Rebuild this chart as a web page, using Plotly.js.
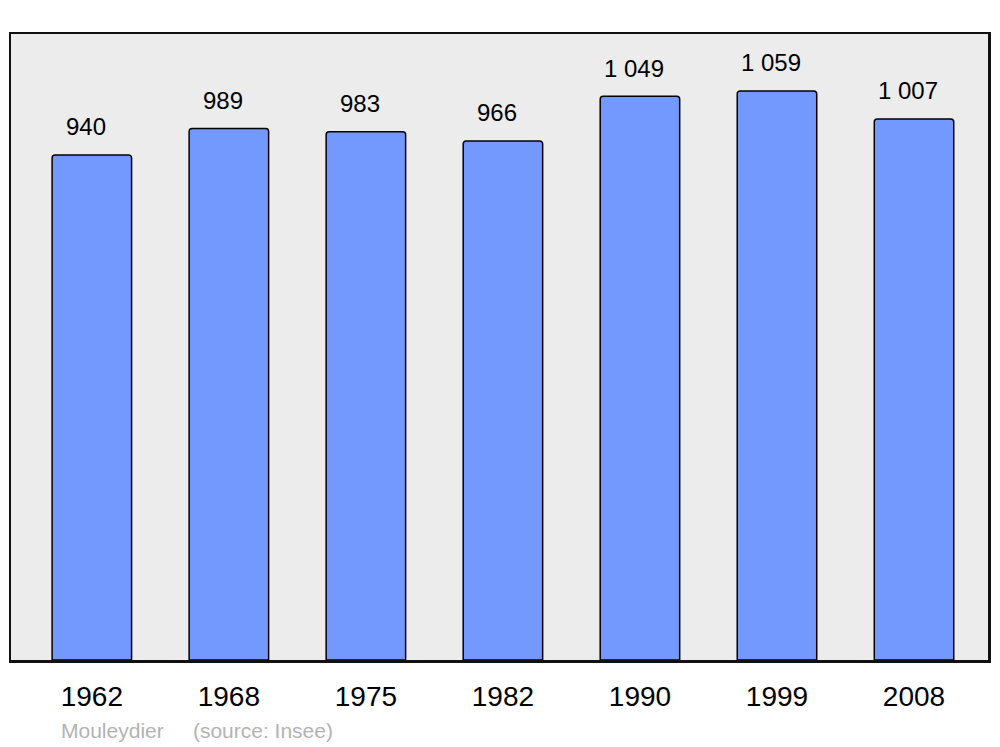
<!DOCTYPE html>
<html><head><meta charset="utf-8">
<script src="https://cdn.plot.ly/plotly-3.0.1.min.js"></script>
<style>html,body{margin:0;padding:0;background:#fff}#chart{width:1000px;height:747px}</style>
</head><body><div id="chart"></div>
<script>
const years = ['1962','1968','1975','1982','1990','1999','2008'];
const population = [940, 989, 983, 966, 1049, 1059, 1007];
const commune = 'Mouleydier';
const source = '(source: Insee)';

function fmt(v){ return String(v).replace(/\B(?=(\d{3})+(?!\d))/g, ' '); }
const idx = years.map((_, i) => i);
const FONT = 'Liberation Sans, Arial, sans-serif';

const trace = {
  type: 'bar', x: idx, y: population, width: 0.58,
  marker: {color: '#7399ff', line: {color: '#000', width: 1.5}, cornerradius: 3},
  hoverinfo: 'none'
};
const annotations = population.map((v, i) => ({
  x: i - 0.045, y: v, xref: 'x', yref: 'y', text: fmt(v), showarrow: false,
  yanchor: 'middle', yshift: 28, font: {family: FONT, size: 24, color: '#000'}
}));
annotations.push({
  xref: 'paper', yref: 'paper', x: 0.049, y: -0.112, xanchor: 'left', yanchor: 'middle',
  text: commune + '&nbsp;&nbsp;&nbsp;&nbsp;&nbsp;' + source, showarrow: false,
  font: {family: FONT, size: 21, color: '#b3b3b3'}
});
const layout = {
  width: 1000, height: 747,
  margin: {l: 11, r: 12, t: 34, b: 87},
  paper_bgcolor: '#fff', plot_bgcolor: '#ececec',
  showlegend: false,
  xaxis: {range: [-0.59, 6.54], tickmode: 'array', tickvals: idx, ticktext: years,
    showgrid: false, zeroline: false, showline: true, mirror: true, linecolor: '#111', linewidth: 2.5,
    ticks: '', ticklabelstandoff: 10, fixedrange: true,
    tickfont: {family: FONT, size: 28, color: '#000'}},
  yaxis: {range: [0, 1165], showgrid: false, zeroline: false, showticklabels: false,
    showline: true, mirror: true, linecolor: '#111', linewidth: 2.5, ticks: '', fixedrange: true},
  annotations: annotations
};
Plotly.newPlot('chart', [trace], layout, {displayModeBar: false, staticPlot: true});
</script></body></html>
